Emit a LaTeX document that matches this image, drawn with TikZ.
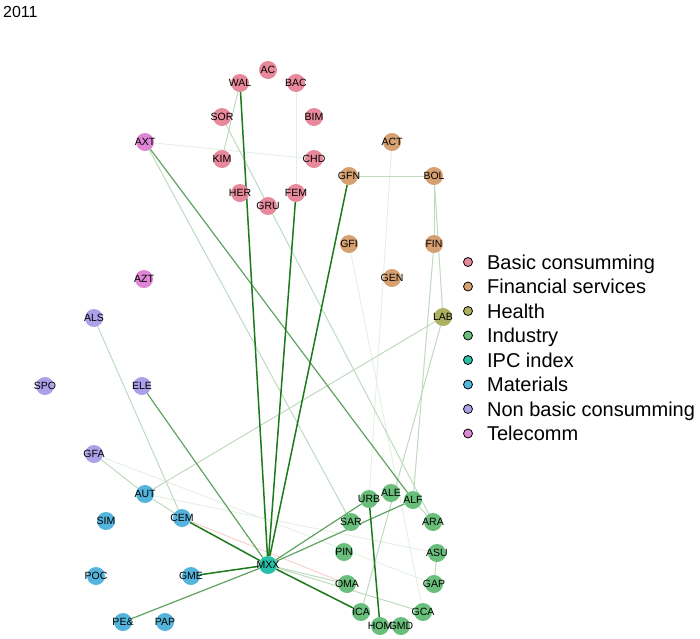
\documentclass[tikz,border=0pt]{standalone}
\usepackage{fontspec}
\setmainfont{Liberation Sans}
\usepackage{tikz}
\usetikzlibrary{positioning, backgrounds}
\definecolor{bcpink}{RGB}{232,137,155}
\definecolor{fstan}{RGB}{214,160,112}
\definecolor{hlolive}{RGB}{172,176,96}
\definecolor{indgreen}{RGB}{104,190,122}
\definecolor{ipcteal}{RGB}{38,192,168}
\definecolor{matblue}{RGB}{84,180,220}
\definecolor{nbclilac}{RGB}{172,160,232}
\definecolor{telmag}{RGB}{222,134,212}
\definecolor{linkgreen}{RGB}{28,122,28}
\definecolor{linkpink}{RGB}{245,170,170}
\tikzstyle{vtx}=[%
      circle, draw=none, minimum size=18pt, inner sep=0pt
]
\tikzstyle{bc}=[vtx, fill=bcpink]
\tikzstyle{fs}=[vtx, fill=fstan]
\tikzstyle{hl}=[vtx, fill=hlolive]
\tikzstyle{ind}=[vtx, fill=indgreen]
\tikzstyle{ipc}=[vtx, fill=ipcteal]
\tikzstyle{mat}=[vtx, fill=matblue]
\tikzstyle{nbc}=[vtx, fill=nbclilac]
\tikzstyle{tel}=[vtx, fill=telmag]
\tikzstyle{strong}=[draw=linkgreen, line width=1.5pt]
\tikzstyle{medium}=[draw=linkgreen!70, line width=1.2pt]
\tikzstyle{weak}=[draw=linkgreen!28, line width=1pt]
\tikzstyle{faint}=[draw=linkgreen!12, line width=0.9pt]
\tikzstyle{neg}=[draw=linkpink!60, line width=0.9pt]
\tikzstyle{key}=[%
      circle, draw=black, line width=0.8pt, minimum size=9pt, inner sep=0pt
]
\tikzstyle{keytxt}=[%
      inner sep=0pt, text height=14pt, text depth=0pt, font=\fontsize{20}{22}\selectfont
]

\begin{document}
\begin{tikzpicture}[x=1pt, y=-1pt,
    every label/.style={font=\fontsize{10.5}{11}\selectfont, inner sep=0pt, text=black}
  ]
    \useasboundingbox (0,0) rectangle (700,638);
    \node[anchor=north west, inner sep=0pt, font=\fontsize{16}{18}\selectfont] (year) at (3,6) {2011};

    % basic consumming
    \node[bc, label=center:AC]  (AC)  at (268,70)  {};
    \node[bc, label=center:WAL] (WAL) at (240,83)  {};
    \node[bc, label=center:BAC] (BAC) at (296,83)  {};
    \node[bc, label=center:SOR] (SOR) at (222,117) {};
    \node[bc, label=center:BIM] (BIM) at (314,117) {};
    \node[bc, label=center:KIM] (KIM) at (222,159) {};
    \node[bc, label=center:CHD] (CHD) at (314,159) {};
    \node[bc, label=center:HER] (HER) at (240,193) {};
    \node[bc, label=center:FEM] (FEM) at (296,193) {};
    \node[bc, label=center:GRU] (GRU) at (268,206) {};
    % telecomm
    \node[tel, label=center:AXT] (AXT) at (145,142) {};
    \node[tel, label=center:AZT] (AZT) at (144,279) {};
    % financial services
    \node[fs, label=center:ACT] (ACT) at (392,142) {};
    \node[fs, label=center:GFN] (GFN) at (349,176) {};
    \node[fs, label=center:BOL] (BOL) at (434,176) {};
    \node[fs, label=center:GFI] (GFI) at (349,244) {};
    \node[fs, label=center:FIN] (FIN) at (434,244) {};
    \node[fs, label=center:GEN] (GEN) at (392,278) {};
    % health
    \node[hl, label=center:LAB] (LAB) at (443,317) {};
    % non basic consumming
    \node[nbc, label=center:ALS] (ALS) at (94,318)  {};
    \node[nbc, label=center:SPO] (SPO) at (45,386)  {};
    \node[nbc, label=center:ELE] (ELE) at (142,386) {};
    \node[nbc, label=center:GFA] (GFA) at (94,454)  {};
    % materials
    \node[mat, label=center:AUT] (AUT) at (145,494) {};
    \node[mat, label=center:SIM] (SIM) at (106,521) {};
    \node[mat, label=center:CEM] (CEM) at (182,518) {};
    \node[mat, label=center:POC] (POC) at (96,576)  {};
    \node[mat, label=center:GME] (GME) at (191,576) {};
    \node[mat, label=center:PE\&] (PE) at (123,622) {};
    \node[mat, label=center:PAP] (PAP) at (165,622) {};
    % ipc index
    \node[ipc, label=center:MXX] (MXX) at (268,565) {};
    % industry
    \node[ind, label=center:URB] (URB) at (369,499) {};
    \node[ind, label=center:ALE] (ALE) at (391,493) {};
    \node[ind, label=center:ALF] (ALF) at (413,500) {};
    \node[ind, label=center:SAR] (SAR) at (351,522) {};
    \node[ind, label=center:ARA] (ARA) at (433,522) {};
    \node[ind, label=center:PIN] (PIN) at (344,552) {};
    \node[ind, label=center:ASU] (ASU) at (437,553) {};
    \node[ind, label=center:OMA] (OMA) at (347,584) {};
    \node[ind, label=center:GAP] (GAP) at (434,584) {};
    \node[ind, label=center:ICA] (ICA) at (361,612) {};
    \node[ind, label=center:GCA] (GCA) at (423,612) {};
    \node[ind, label=center:HOM] (HOM) at (380,626) {};
    \node[ind, label=center:GMD] (GMD) at (401,626) {};

    \begin{pgfonlayer}{background}
    \path (AXT) edge[faint] (CHD)
          (BAC) edge[faint] (FEM)
          (GFI) edge[faint] (GCA)
          (GFA) edge[faint] (GAP)
          (AUT) edge[faint] (ASU)
          (ACT) edge[faint] (URB)
          (CEM) edge[neg] (OMA)
          (WAL) edge[weak] (KIM)
          (SOR) edge[weak] (ARA)
          (AXT) edge[weak] (SAR)
          (GFN) edge[weak] (BOL)
          (BOL) edge[weak] (FIN)
          (BOL) edge[weak] (LAB)
          (FIN) edge[weak] (ALF)
          (ALS) edge[weak] (CEM)
          (GFA) edge[weak] (AUT)
          (AUT) edge[weak] (CEM)
          (LAB) edge[weak] (AUT)
          (LAB) edge[weak] (ICA)
          (ASU) edge[weak] (GAP)
          (MXX) edge[weak] (GCA)
          (MXX) edge[weak] (OMA)
          (ALF) edge[weak] (ARA)
          (ELE) edge[medium] (MXX)
          (AXT) edge[medium] (ALF)
          (PE)  edge[medium] (MXX)
          (MXX) edge[medium] (URB)
          (MXX) edge[medium] (ALF)
          (WAL) edge[strong] (MXX)
          (FEM) edge[strong] (MXX)
          (GFN) edge[strong] (MXX)
          (CEM) edge[strong] (MXX)
          (GME) edge[strong] (MXX)
          (MXX) edge[strong] (ICA)
          (URB) edge[strong] (HOM)
    ;
    \end{pgfonlayer}

    % legend
    \foreach \col/\txt [count=\i] in {bcpink/Basic consumming, fstan/Financial services,
        hlolive/Health, indgreen/Industry, ipcteal/IPC index, matblue/Materials,
        nbclilac/Non basic consumming, telmag/Telecomm}
    {
      \node[key, fill=\col] (k\i) at (468,{262+24.5*(\i-1)}) {};
      \node[keytxt, right=14pt of k\i] (t\i) {\txt};
    }
\end{tikzpicture}
\end{document}
